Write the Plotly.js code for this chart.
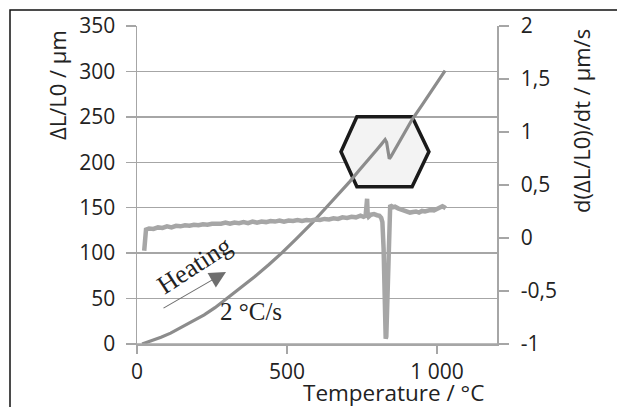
<!DOCTYPE html>
<html>
<head>
<meta charset="utf-8">
<script src="https://cdn.plot.ly/plotly-3.0.1.min.js"></script>
<style>html,body{margin:0;padding:0;background:#fff;}#chart{width:617px;height:407px;}</style>
</head>
<body>
<div id="chart"></div>
<script>
// Thermal expansion ΔL/L0 (left axis, µm) vs temperature (°C)
var expT = [17, 50, 80, 112, 150, 190, 224, 260, 291, 340, 392, 440, 482, 530, 583, 630, 672, 710, 740, 770, 800, 815, 827, 832, 836, 841, 846, 860, 880, 900, 917, 950, 990, 1027];
var expV = [0, 3.5, 7.5, 12, 18.5, 25.5, 32, 40, 48, 60.5, 74, 87.5, 100, 115.5, 133, 150, 165, 179, 191, 202, 214, 220, 225, 222, 213, 204, 206, 214, 225, 237, 247, 263, 283, 301];

// Derivative d(ΔL/L0)/dt (right axis, µm/s) vs temperature (°C)
var derT = [24, 26, 30, 40, 55, 70, 85, 100, 115, 130, 145, 160, 175, 190, 205, 220, 235, 250, 265, 280, 295, 310, 325, 340, 355, 370, 385, 400, 415, 430, 445, 460, 475, 490, 505, 520, 535, 550, 565, 580, 595, 610, 625, 640, 655, 670, 685, 700, 715, 730, 745, 755, 762, 765, 767, 769, 772, 780, 790, 800, 808, 814, 818, 822, 825, 829, 831, 835, 839, 844, 852, 860, 870, 880, 890, 900, 910, 920, 930, 940, 950, 960, 970, 980, 990, 1000, 1010, 1018, 1024, 1029];
var derV = [-0.12, 0.05, 0.08, 0.09, 0.085, 0.10, 0.095, 0.11, 0.10, 0.115, 0.11, 0.12, 0.115, 0.125, 0.12, 0.13, 0.125, 0.135, 0.13, 0.135, 0.145, 0.135, 0.145, 0.14, 0.15, 0.14, 0.155, 0.145, 0.155, 0.15, 0.16, 0.155, 0.165, 0.155, 0.165, 0.16, 0.17, 0.16, 0.17, 0.165, 0.175, 0.17, 0.18, 0.175, 0.185, 0.18, 0.195, 0.19, 0.20, 0.195, 0.21, 0.20, 0.21, 0.36, 0.37, 0.22, 0.20, 0.22, 0.225, 0.215, 0.21, 0.19, 0.15, -0.1, -0.6, -0.95, -0.93, -0.4, 0.1, 0.31, 0.29, 0.295, 0.28, 0.27, 0.255, 0.25, 0.24, 0.245, 0.25, 0.24, 0.255, 0.25, 0.26, 0.265, 0.26, 0.275, 0.28, 0.30, 0.29, 0.28];

var xTicks = [0, 500, 1000];
var xTickText = ['0', '500', '1 000'];
var yTicks = [0, 50, 100, 150, 200, 250, 300, 350];
var y2Ticks = [-1, -0.5, 0, 0.5, 1, 1.5, 2];
var y2TickText = ['-1', '-0,5', '0', '0,5', '1', '1,5', '2'];

var FONT = '"Open Sans", "DejaVu Sans", sans-serif';
var SERIF = '"Liberation Serif", "DejaVu Serif", serif';
var GRID = '#a6a6a6';
var TXT = '#222';

var traces = [
  {x: expT, y: expV, type: 'scatter', mode: 'lines', line: {color: '#8c8c8c', width: 3.2}, yaxis: 'y', hoverinfo: 'skip'},
  {x: derT, y: derV, type: 'scatter', mode: 'lines', line: {color: '#a6a6a6', width: 4.5}, yaxis: 'y2', hoverinfo: 'skip'}
];

var L = 137, R = 497, T = 26, B = 344;
function px2paperX(px) { return (px - L) / (R - L); }
function px2paperY(py) { return (B - py) / (B - T); }

var layout = {
  width: 617, height: 407,
  margin: {l: L, r: 617 - R, t: T, b: 407 - B, pad: 0},
  paper_bgcolor: '#fff', plot_bgcolor: '#fff',
  showlegend: false,
  font: {family: FONT, color: TXT, size: 20},
  xaxis: {
    range: [0, 1200], tickvals: xTicks, ticktext: xTickText,
    showgrid: false, zeroline: false, showline: true, linecolor: GRID, linewidth: 1.5,
    ticks: 'outside', ticklen: 8, tickcolor: GRID, tickwidth: 1.5, ticklabelstandoff: 0,
    tickfont: {size: 21, family: FONT, color: TXT}
  },
  yaxis: {
    range: [0, 350], tickvals: yTicks,
    showgrid: true, gridcolor: GRID, gridwidth: 1.5, zeroline: false,
    showline: true, linecolor: GRID, linewidth: 1.5,
    ticks: 'outside', ticklen: 10, tickcolor: GRID, tickwidth: 1.5, ticklabelstandoff: 6,
    tickfont: {size: 21, family: FONT, color: TXT}
  },
  yaxis2: {
    range: [-1, 2], tickvals: y2Ticks, ticktext: y2TickText,
    overlaying: 'y', side: 'right', showgrid: false, zeroline: false,
    showline: true, linecolor: GRID, linewidth: 1.5,
    ticks: 'outside', ticklen: 10, tickcolor: GRID, tickwidth: 1.5, ticklabelstandoff: 8,
    tickfont: {size: 21, family: FONT, color: TXT}
  },
  shapes: [
    {type: 'path', xref: 'x', yref: 'y', layer: 'between',
     path: 'M680,211.5 L733,250 L917,250 L973,211.5 L917,173 L733,173 Z',
     fillcolor: '#f3f3f3', line: {color: '#1a1a1a', width: 3.5}},
    {type: 'line', xref: 'paper', yref: 'paper',
     x0: px2paperX(128), x1: px2paperX(506), y0: 0, y1: 0,
     line: {color: GRID, width: 1.5}},
    {type: 'rect', xref: 'paper', yref: 'paper',
     x0: px2paperX(10), x1: px2paperX(640), y0: px2paperY(430), y1: px2paperY(10),
     line: {color: '#111', width: 1.5}, fillcolor: 'rgba(0,0,0,0)', layer: 'above'}
  ],
  annotations: [
    {xref: 'paper', yref: 'paper', x: px2paperX(57), y: px2paperY(85), text: 'ΔL/L0 / µm',
     textangle: -90, showarrow: false, xanchor: 'center', yanchor: 'middle',
     font: {size: 22, family: FONT, color: TXT}},
    {xref: 'paper', yref: 'paper', x: px2paperX(581), y: px2paperY(121), text: 'd(ΔL/L0)/dt / µm/s',
     textangle: -90, showarrow: false, xanchor: 'center', yanchor: 'middle',
     font: {size: 22, family: FONT, color: TXT}},
    {xref: 'paper', yref: 'paper', x: px2paperX(393), y: px2paperY(392), text: 'Temperature / °C',
     showarrow: false, xanchor: 'center', yanchor: 'middle',
     font: {size: 22.5, family: FONT, color: TXT}},
    {xref: 'paper', yref: 'paper', x: px2paperX(194), y: px2paperY(265), text: 'Heating',
     textangle: -33, showarrow: false, xanchor: 'center', yanchor: 'middle',
     font: {size: 26, family: SERIF, color: TXT}},
    {xref: 'paper', yref: 'paper', x: px2paperX(251), y: px2paperY(311), text: '2 °C/s',
     showarrow: false, xanchor: 'center', yanchor: 'middle',
     font: {size: 25, family: SERIF, color: TXT}},
    {xref: 'paper', yref: 'paper', axref: 'pixel', ayref: 'pixel',
     x: px2paperX(226), y: px2paperY(272), ax: -64, ay: 37, text: '',
     showarrow: true, arrowhead: 2, arrowsize: 3, arrowwidth: 1.1, arrowcolor: '#6e6e6e', standoff: 0}
  ]
};

Plotly.newPlot('chart', traces, layout, {staticPlot: true, displayModeBar: false});
</script>
</body>
</html>
